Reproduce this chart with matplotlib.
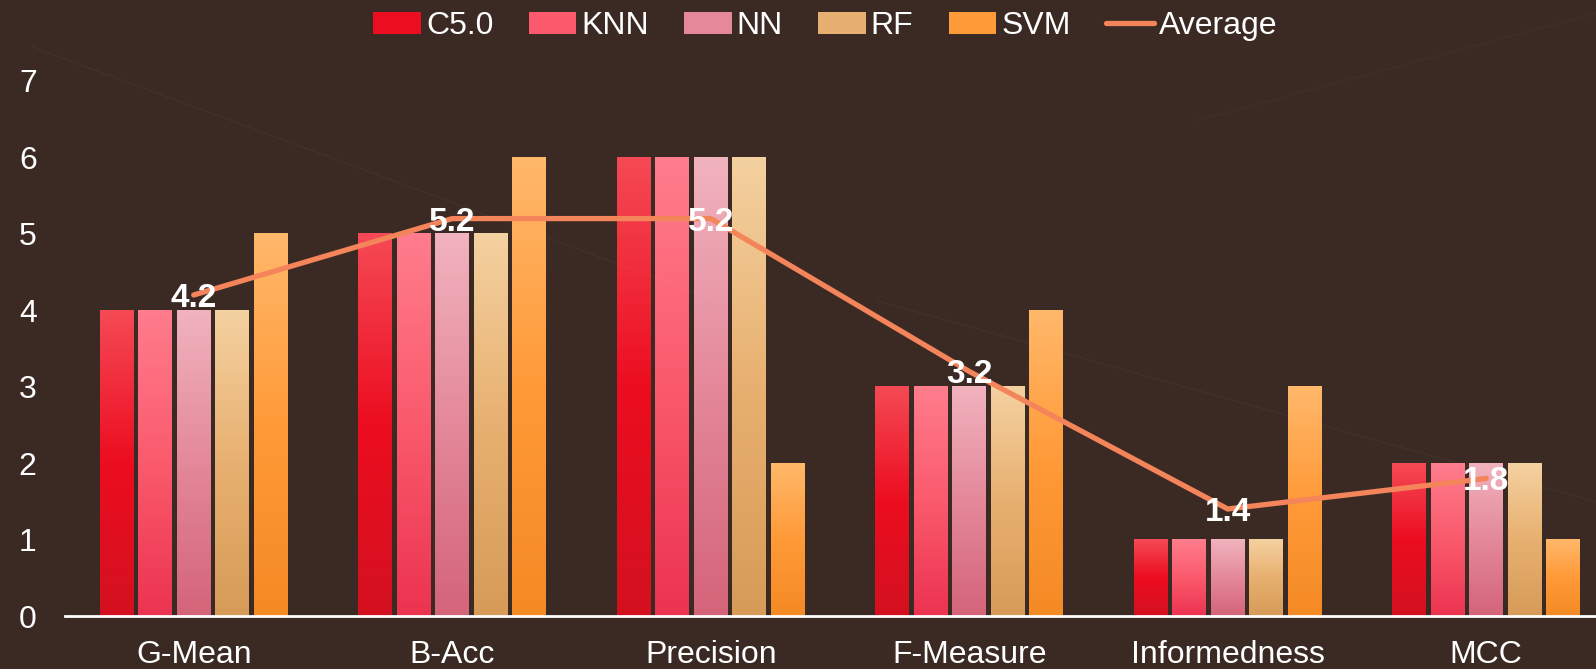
import matplotlib.pyplot as plt
import numpy as np
from matplotlib.patches import Patch
from matplotlib.lines import Line2D
from matplotlib.colors import LinearSegmentedColormap

plt.rcParams['font.family'] = ['Liberation Sans', 'DejaVu Sans']

metrics = ['G-Mean', 'B-Acc', 'Precision', 'F-Measure', 'Informedness', 'MCC']
models = ['C5.0', 'KNN', 'NN', 'RF', 'SVM']
c50 = [4, 5, 6, 3, 1, 2]
knn = [4, 5, 6, 3, 1, 2]
nn = [4, 5, 6, 3, 1, 2]
rf = [4, 5, 6, 3, 1, 2]
svm = [5, 6, 2, 4, 3, 1]
average = [4.2, 5.2, 5.2, 3.2, 1.4, 1.8]

# top / middle / bottom colour of each bar gradient
grad_colors = {
    'C5.0': ['#f54a55', '#ec0d20', '#d3111f'],
    'KNN': ['#ff7d8d', '#fa5a6c', '#ec3350'],
    'NN': ['#f1b3be', '#e4889a', '#d46479'],
    'RF': ['#f4d1a0', '#e8b070', '#d69b57'],
    'SVM': ['#ffb86a', '#ff9a38', '#f48a24'],
}
bg = '#3b2a24'
line_color = '#f4845a'

fig = plt.figure(figsize=(15.96, 6.69), dpi=100, facecolor=bg)
# faint decorative strokes in the background
fig.add_artist(Line2D([0.02, 0.45], [0.93, 0.55], color='#ffffff', alpha=0.03, lw=1))
fig.add_artist(Line2D([0.55, 1.0], [0.55, 0.25], color='#ffffff', alpha=0.03, lw=1))
fig.add_artist(Line2D([0.75, 1.0], [0.82, 0.98], color='#ffffff', alpha=0.025, lw=1))

ax = fig.add_axes([64.5 / 1596, 53 / 669, 1551 / 1596, (616 - 81) / 669])
ax.set_facecolor('none')

x = np.arange(len(metrics))
pitch = 0.149
width = 0.13
series = [c50, knn, nn, rf, svm]

for i, (name, vals) in enumerate(zip(models, series)):
    offs = (i - 2) * pitch
    bars = ax.bar(x + offs, vals, width=width, color='none', zorder=2)
    cmap = LinearSegmentedColormap.from_list(name, grad_colors[name][::-1])
    grad = np.linspace(0, 1, 256).reshape(-1, 1)
    for b in bars:
        x0 = b.get_x()
        h = b.get_height()
        ax.imshow(grad, cmap=cmap, origin='lower', aspect='auto',
                  extent=(x0, x0 + width, 0, h), zorder=2)

ax.plot(x, average, color=line_color, lw=3.8, solid_capstyle='round', zorder=3)
for xi, v in zip(x, average):
    ax.text(xi, v, f'{v:.1f}', ha='center', va='center_baseline', color='white',
            fontsize=24, fontweight='bold', zorder=4)

ax.set_xlim(-0.5, len(metrics) - 0.5)
ax.set_ylim(0, 7)
ax.set_xticks(x)
ax.set_xticklabels(metrics)
ax.set_yticks(range(8))
ax.tick_params(axis='both', colors='white', labelsize=23, length=0)
ax.tick_params(axis='y', pad=20)
ax.tick_params(axis='x', pad=17)
for s in ['top', 'right', 'left']:
    ax.spines[s].set_visible(False)
ax.spines['bottom'].set_color('white')
ax.spines['bottom'].set_linewidth(2)
ax.spines['bottom'].set_zorder(5)

handles = [Patch(facecolor=grad_colors[m][1], edgecolor='none') for m in models]
handles.append(Line2D([0], [0], color=line_color, lw=3.8, solid_capstyle='round'))
leg = fig.legend(handles, models + ['Average'], loc='center', ncol=6,
                 bbox_to_anchor=(0.517, 0.961), frameon=False, fontsize=23,
                 labelcolor='white', handlelength=1.5, handletextpad=0.15,
                 columnspacing=1.1)

fig.savefig('out.png', dpi=100, facecolor=bg)
